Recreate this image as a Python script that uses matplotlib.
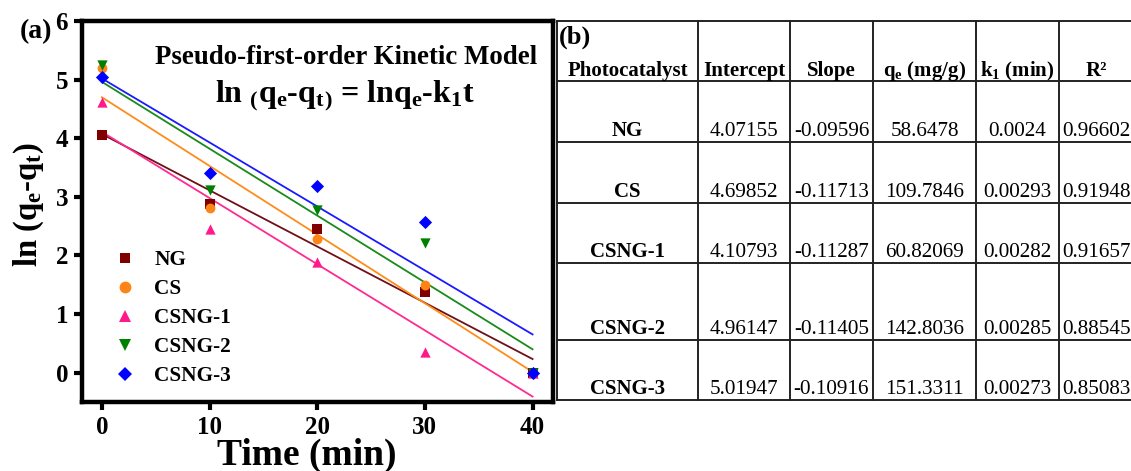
import numpy as np
import matplotlib
matplotlib.use("Agg")
import matplotlib.pyplot as plt
from matplotlib.lines import Line2D

plt.rcParams['font.family'] = ['Liberation Serif', 'DejaVu Serif']
plt.rcParams['font.weight'] = 'bold'
plt.rcParams['mathtext.fontset'] = 'custom'
plt.rcParams['mathtext.rm'] = 'Liberation Serif:bold'
plt.rcParams['mathtext.it'] = 'Liberation Serif:bold'
plt.rcParams['mathtext.bf'] = 'Liberation Serif:bold'

# ---------------- data ----------------
time = [0, 10, 20, 30, 40]
series_names = ["NG", "CS", "CSNG-1", "CSNG-2", "CSNG-3"]
ng = [4.06, 2.88, 2.45, 1.38, 0.0]
cs = [5.20, 2.81, 2.28, 1.49, 0.0]
csng1 = [4.61, 2.45, 1.89, 0.36, 0.0]
csng2 = [5.25, 3.12, 2.77, 2.22, 0.0]
csng3 = [5.04, 3.40, 3.18, 2.57, 0.0]
series_values = [ng, cs, csng1, csng2, csng3]

intercepts = [4.07155, 4.69852, 4.10793, 4.96147, 5.01947]
slopes = [-0.09596, -0.11713, -0.11287, -0.11405, -0.10916]
qe_vals = ["58.6478", "109.7846", "60.82069", "142.8036", "151.3311"]
k1_vals = ["0.0024", "0.00293", "0.00282", "0.00285", "0.00273"]
r2_vals = ["0.96602", "0.91948", "0.91657", "0.88545", "0.85083"]
intercept_txt = ["4.07155", "4.69852", "4.10793", "4.96147", "5.01947"]
slope_txt = ["-0.09596", "-0.11713", "-0.11287", "-0.11405", "-0.10916"]
headers = ["Photocatalyst", "Intercept", "Slope", "q$_\\mathregular{e}$ (mg/g)",
           "k$_\\mathregular{1}$ (min)", "R²"]

xticks = [0, 10, 20, 30, 40]
yticks = [0, 1, 2, 3, 4, 5, 6]

# ---------------- styles ----------------
marker_colors = ["#800000", "#ff8418", "#ff1a8c", "#008000", "#0000ff"]
line_colors = ["#6e1018", "#ff8c1a", "#ff2a90", "#1a8a1a", "#1a1aff"]
markers = ["s", "o", "^", "v", "D"]
msizes = [45, 50, 55, 55, 45]

W, H = 1131, 471
fig = plt.figure(figsize=(W / 100, H / 100), dpi=100)

def fx(px):
    return px / W

def fy(py):
    return 1 - py / H

ax_l, ax_r, ax_t, ax_b = 82, 553, 21, 402
ax = fig.add_axes([fx(ax_l), fy(ax_b), fx(ax_r) - fx(ax_l), fy(ax_t) - fy(ax_b)])

tline = np.array([0, 40])
handles = []
for i, name in enumerate(series_names):
    ax.plot(tline, intercepts[i] + slopes[i] * tline, color=line_colors[i], lw=1.3, zorder=2)
for i, name in enumerate(series_names):
    ax.scatter(time, series_values[i], marker=markers[i], s=msizes[i],
               color=marker_colors[i], zorder=3, linewidths=0)
    handles.append(Line2D([], [], marker=markers[i], linestyle='none',
                          markerfacecolor=marker_colors[i], markeredgewidth=0,
                          markersize=7.5 if markers[i] in 'sD' else 8.5, label=name))

ax.set_xlim(-1.85, 41.9)
ax.set_ylim(-0.5, 6)
ax.set_xticks(xticks)
ax.set_yticks(yticks)
for s in ax.spines.values():
    s.set_linewidth(3.2)
ax.tick_params(axis='both', direction='out', length=6, width=3, labelsize=18, pad=4)
for lab in ax.get_xticklabels() + ax.get_yticklabels():
    lab.set_fontweight('bold')

ax.text(22.66, 5.37, "Pseudo-first-order Kinetic Model", ha='center', va='center',
        fontsize=19.4, fontweight='bold')
ax.text(22.6, 4.72, r"ln $_{\mathregular{(}}$q$_\mathregular{e}$-q$_\mathregular{t}$$_{\mathregular{)}}$ = lnq$_\mathregular{e}$-k$_\mathregular{1}$t",
        ha='center', va='center', fontsize=23, fontweight='bold')

leg = ax.legend(handles=handles, loc='upper left', bbox_to_anchor=(0.05, 0.42),
                frameon=False, fontsize=15.3, handletextpad=0.9, labelspacing=0.42,
                handlelength=1.0, borderaxespad=0)
for t in leg.get_texts():
    t.set_fontweight('bold')

fig.text(fx(29), fy(205), r"ln (q$_\mathregular{e}$-q$_\mathregular{t}$)", rotation=90,
         ha='center', va='center', fontsize=23.5, fontweight='bold')
fig.text(fx(307), fy(455), "Time (min)", ha='center', va='center', fontsize=27,
         fontweight='bold')
fig.text(fx(36), fy(32), "(a)", ha='center', va='center', fontsize=20, fontweight='bold')

# ---------------- table (b) ----------------
col_x = [557, 698, 790, 873, 976, 1059, 1134]
row_y = [21, 81, 142, 203, 263, 340, 400]

for x in col_x:
    fig.add_artist(Line2D([fx(x), fx(x)], [fy(row_y[0]), fy(row_y[-1])],
                          color='#222222', lw=1.4))
for y in row_y:
    fig.add_artist(Line2D([fx(col_x[0]), fx(col_x[-1])], [fy(y), fy(y)],
                          color='#222222', lw=1.4))

fig.text(fx(559), fy(37), "(b)", ha='left', va='center', fontsize=19, fontweight='bold')

cx = [(col_x[j] + col_x[j + 1]) / 2 for j in range(6)]
for j, h in enumerate(headers):
    fig.text(fx(cx[j]), fy(row_y[1] - 5), h, ha='center', va='baseline',
             fontsize=15, fontweight='bold')

for i, name in enumerate(series_names):
    base = fy(row_y[i + 2] - 6)
    fig.text(fx(cx[0]), base, name, ha='center', va='baseline', fontsize=15,
             fontweight='bold')
    vals = [intercept_txt[i], slope_txt[i], qe_vals[i], k1_vals[i], r2_vals[i]]
    for j, v in enumerate(vals):
        fig.text(fx(cx[j + 1]), base, v, ha='center', va='baseline', fontsize=15.2,
                 fontweight='normal')

fig.savefig("out.png", dpi=100)
